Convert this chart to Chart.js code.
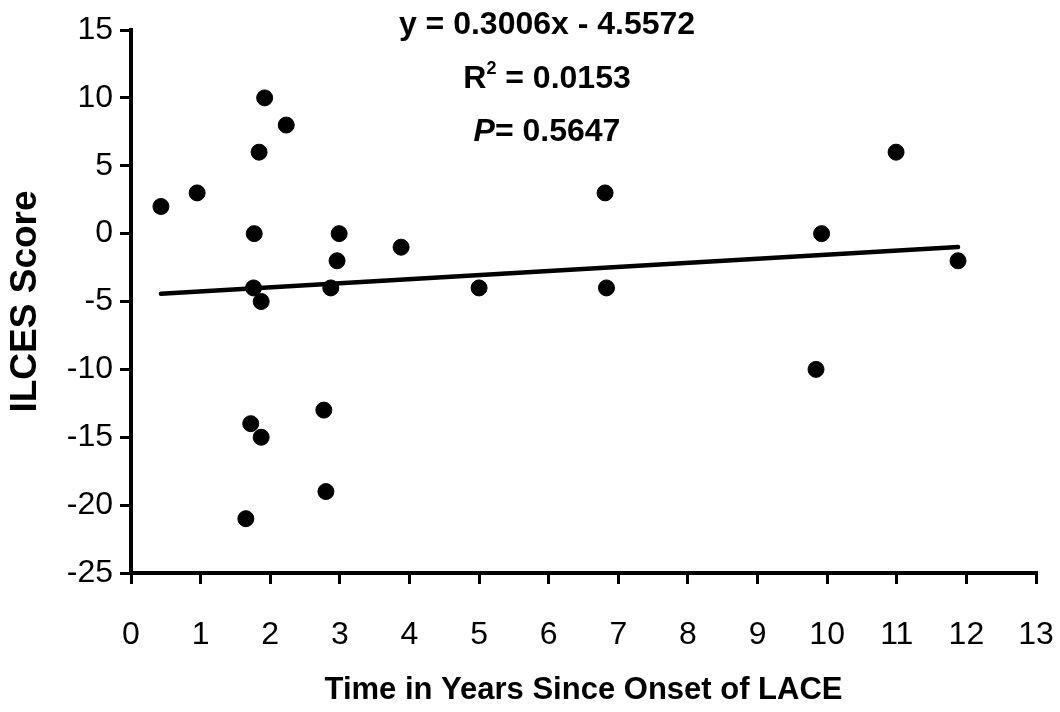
<!DOCTYPE html>
<html>
<head>
<meta charset="utf-8">
<script src="https://cdn.jsdelivr.net/npm/chart.js@4/dist/chart.umd.min.js"></script>
<style>
  html, body { margin: 0; padding: 0; background: #fff; }
  #chart { display: block; }
</style>
</head>
<body>
<canvas id="chart" width="1060" height="712"></canvas>
<script>
// years since onset (x) and ILCES score (y)
const years = [0.43, 0.95, 1.65, 1.72, 1.76, 1.77, 1.84, 1.87, 1.87, 1.92, 2.23, 2.77,
               2.80, 2.87, 2.96, 2.99, 3.88, 5.0, 6.81, 6.83, 9.84, 9.92, 10.99, 11.88];
const scores = [2, 3, -21, -14, -4, 0, 6, -5, -15, 10, 8, -13,
                -19, -4, -2, 0, -1, -4, 3, -4, -10, 0, 6, -2];

// regression line end points
const trendX = [0.43, 11.88];
const trendY = [-4.43, -0.99];

const xTicks = [0, 1, 2, 3, 4, 5, 6, 7, 8, 9, 10, 11, 12, 13];
const yTicks = [-25, -20, -15, -10, -5, 0, 5, 10, 15];

const statLines = ["y = 0.3006x - 4.5572", "R2 = 0.0153", "P= 0.5647"];

const FONT = "'Liberation Sans', Arial, sans-serif";

// draws the regression equation / stats text at the top
const statsText = {
    id: "statsText",
    afterDraw(chart) {
        const ctx = chart.ctx;
        const cx = 547;
        ctx.save();
        ctx.fillStyle = "#000";
        ctx.textBaseline = "middle";

        // line 1
        ctx.font = "bold 32px " + FONT;
        ctx.textAlign = "center";
        ctx.fillText(statLines[0], cx, 25);

        // line 2: R with superscript 2
        let w1 = ctx.measureText("R").width;
        ctx.font = "bold 18px " + FONT;
        let w2 = ctx.measureText("2").width;
        ctx.font = "bold 32px " + FONT;
        let w3 = ctx.measureText(" = 0.0153").width;
        let x0 = cx - (w1 + w2 + w3) / 2;
        ctx.textAlign = "left";
        ctx.fillText("R", x0, 79);
        ctx.font = "bold 18px " + FONT;
        ctx.fillText("2", x0 + w1, 69);
        ctx.font = "bold 32px " + FONT;
        ctx.fillText(" = 0.0153", x0 + w1 + w2, 79);

        // line 3: italic P
        ctx.font = "italic bold 32px " + FONT;
        let p1 = ctx.measureText("P").width;
        ctx.font = "bold 32px " + FONT;
        let p2 = ctx.measureText("= 0.5647").width;
        x0 = cx - (p1 + p2) / 2;
        ctx.font = "italic bold 32px " + FONT;
        ctx.fillText("P", x0, 132);
        ctx.font = "bold 32px " + FONT;
        ctx.fillText("= 0.5647", x0 + p1, 132);
        ctx.restore();
    }
};

const ctx = document.getElementById("chart").getContext("2d");
new Chart(ctx, {
    type: "scatter",
    data: {
        datasets: [{
            label: "ILCES",
            data: years.map((x, i) => ({ x: x, y: scores[i] })),
            backgroundColor: "#000",
            borderColor: "#000",
            pointRadius: 8,
            pointHoverRadius: 8
        }, {
            type: "line",
            label: "Trend",
            data: trendX.map((x, i) => ({ x: x, y: trendY[i] })),
            borderColor: "#000",
            borderWidth: 4.5,
            pointRadius: 0,
            borderCapStyle: "round",
            fill: false
        }]
    },
    options: {
        responsive: false,
        animation: false,
        layout: { padding: { top: 30, right: 24, bottom: 0, left: 0 } },
        plugins: {
            legend: { display: false },
            tooltip: { enabled: false }
        },
        scales: {
            x: {
                type: "linear",
                min: 0,
                max: 13,
                afterBuildTicks: axis => { axis.ticks = xTicks.map(v => ({ value: v })); },
                afterFit: axis => {
                    axis.height = 139;
                    axis.paddingLeft = 0;
                    axis.paddingRight = 0;
                },
                ticks: {
                    color: "#000",
                    font: { family: FONT, size: 32 },
                    padding: 32,
                    maxRotation: 0
                },
                grid: {
                    drawOnChartArea: false,
                    drawTicks: true,
                    tickLength: 11,
                    color: "#000",
                    lineWidth: 3
                },
                border: { display: true, color: "#000", width: 4 },
                title: {
                    display: true,
                    text: "Time in Years Since Onset of LACE",
                    color: "#000",
                    font: { family: FONT, size: 31, weight: "bold" },
                    padding: { top: 0, bottom: 3 }
                }
            },
            y: {
                type: "linear",
                min: -25,
                max: 15,
                afterBuildTicks: axis => { axis.ticks = yTicks.map(v => ({ value: v })); },
                afterFit: axis => {
                    axis.width = 131;
                    axis.paddingTop = 0;
                    axis.paddingBottom = 0;
                },
                ticks: {
                    color: "#000",
                    font: { family: FONT, size: 32 },
                    padding: 7
                },
                grid: {
                    drawOnChartArea: false,
                    drawTicks: true,
                    tickLength: 11,
                    color: "#000",
                    lineWidth: 3
                },
                border: { display: true, color: "#000", width: 4 },
                title: {
                    display: true,
                    text: "ILCES Score",
                    color: "#000",
                    font: { family: FONT, size: 37, weight: "bold" },
                    padding: { top: 4, bottom: 0 }
                }
            }
        }
    },
    plugins: [statsText]
});
</script>
</body>
</html>
